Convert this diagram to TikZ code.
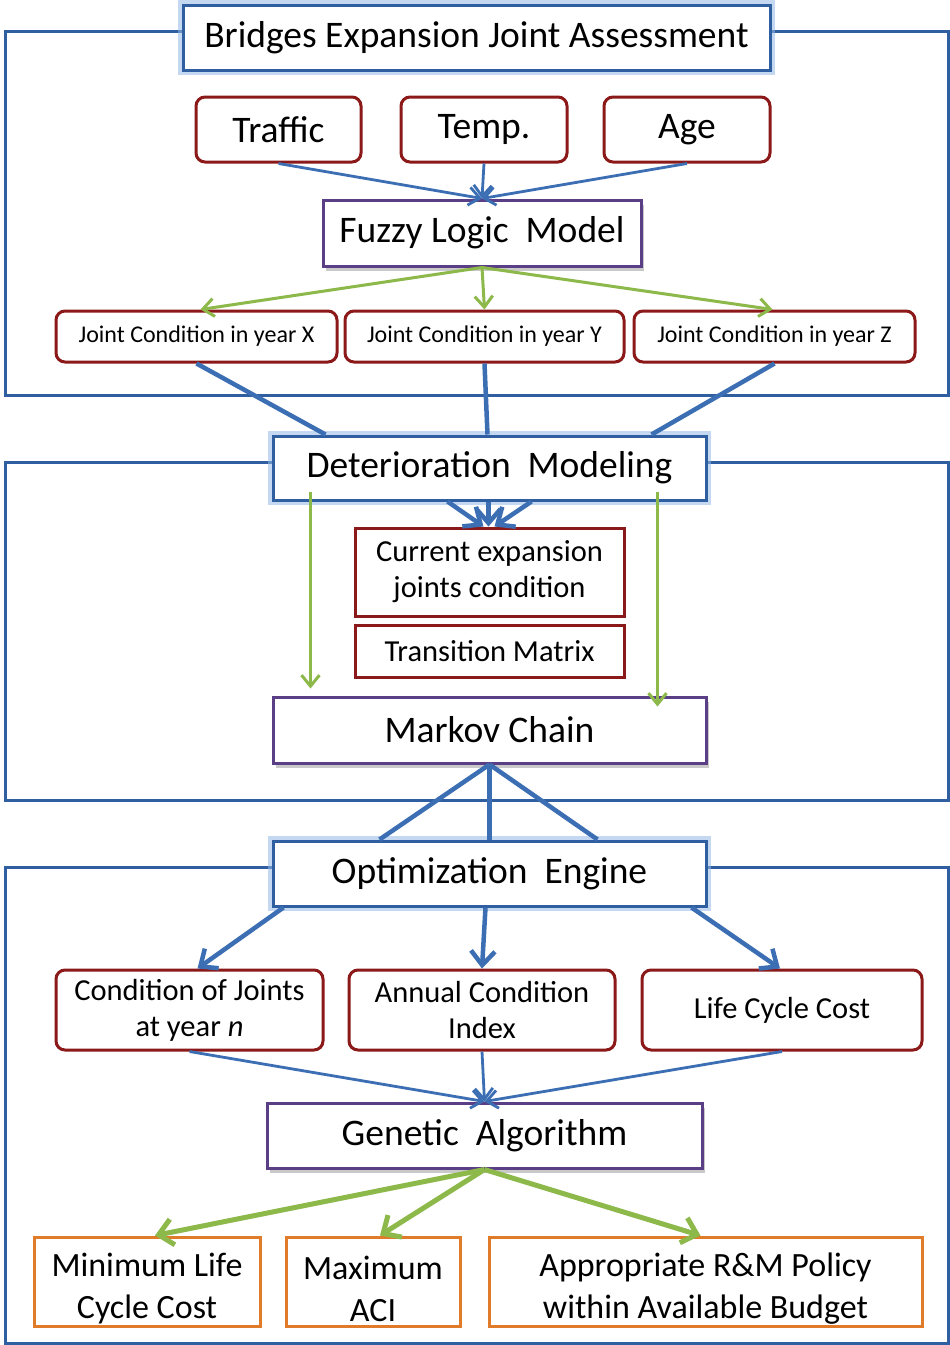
\documentclass[tikz,border=0pt]{standalone}
\usepackage{fontspec}
\setmainfont{Carlito}
\usetikzlibrary{arrows.meta,shadows,calc}
\pgfdeclarelayer{background}
\pgfsetlayers{background,main}

\definecolor{frameblue}{RGB}{47,95,160}
\definecolor{linkblue}{RGB}{60,110,180}
\definecolor{glowblue}{RGB}{150,185,230}
\definecolor{boxred}{RGB}{140,25,25}
\definecolor{boxpurple}{RGB}{91,63,134}
\definecolor{linkgreen}{RGB}{141,184,74}
\definecolor{boxorange}{RGB}{224,123,42}

\newcommand\fsMain{\fontsize{37.5}{40}\selectfont}
\newcommand\fsSmall{\fontsize{24}{28}\selectfont}
\newcommand\fsMid{\fontsize{30.5}{36}\selectfont}
\newcommand\fsOut{\fontsize{34}{42}\selectfont}
% taller first line pushes two-line labels a little lower in their boxes
\newcommand\lowerstrut{\rule{0pt}{38pt}}

\tikzset{
  frameline/.style={draw=frameblue, line width=3},
  glowbox/.style={draw=frameblue, line width=3, fill=white, inner sep=0,
    preaction={draw=glowblue, line width=10, opacity=.55}, font=\fsMain},
  inbox/.style={draw=boxred, line width=3, fill=white, rounded corners=9, inner sep=0, font=\fsMain},
  jcbox/.style={inbox, font=\fsSmall},
  sqbox/.style={draw=boxred, line width=3, fill=white, inner sep=0, align=center, font=\fsMid},
  modelbox/.style={draw=boxpurple, line width=3, fill=white, inner sep=0, font=\fsMain,
    drop shadow={shadow xshift=3pt, shadow yshift=-5pt, opacity=.35, fill=black!60}},
  resbox/.style={inbox, align=center, font=\fsMid},
  outbox/.style={draw=boxorange, line width=3, fill=white, inner sep=0, align=center, font=\fsOut},
  bluearrow/.style={draw=linkblue, line width=2.8, -{Straight Barb[length=11pt,width=18pt]}},
  bluebold/.style={draw=linkblue, line width=4.5},
  blueboldarrow/.style={bluebold, -{Straight Barb[length=14pt,width=24pt]}},
  greenarrow/.style={draw=linkgreen, line width=3, -{Straight Barb[length=11pt,width=18pt]}},
  greenbold/.style={draw=linkgreen, line width=5, -{Straight Barb[length=14pt,width=26pt]}},
}

\begin{document}
\begin{tikzpicture}[x=1pt,y=-1pt]
\useasboundingbox (0,0) rectangle (950,1345);

% ---------- nodes ----------
\node[glowbox, minimum width=587, minimum height=65] (title) at (476.5,37.5) {Bridges Expansion Joint Assessment};

\node[inbox, minimum width=165, minimum height=65] (traffic) at (278.5,129.5) {Traffic};
\node[inbox, minimum width=166, minimum height=65] (temp) at (484,129.5) {Temp.};
\node[inbox, minimum width=166, minimum height=65] (age) at (687,129.5) {Age};

\node[modelbox, minimum width=318, minimum height=66] (fuzzy) at (482,233) {Fuzzy Logic\ \ Model};

\node[jcbox, minimum width=281, minimum height=51] (jcx) at (196.5,336.5) {Joint Condition in year X};
\node[jcbox, minimum width=279, minimum height=51] (jcy) at (484.5,336.5) {Joint Condition in year Y};
\node[jcbox, minimum width=281, minimum height=51] (jcz) at (774.5,336.5) {Joint Condition in year Z};

\node[glowbox, minimum width=433, minimum height=64] (det) at (489.5,468) {Deterioration\ \ Modeling};

\node[sqbox, minimum width=269, minimum height=88] (cur) at (489.5,572) {Current expansion\\joints condition};
\node[sqbox, minimum width=269, minimum height=52] (trans) at (489.5,651) {Transition Matrix};

\node[modelbox, minimum width=433, minimum height=66] (markov) at (489.5,730) {Markov Chain};

\node[glowbox, minimum width=433, minimum height=65] (opt) at (489.5,873.5) {Optimization\ \ Engine};

\node[resbox, minimum width=267, minimum height=80] (cj) at (189.5,1010) {Condition of Joints\\at year \textit{n}};
\node[resbox, minimum width=266, minimum height=80] (aci) at (482,1010) {Annual Condition\\Index};
\node[resbox, minimum width=280, minimum height=80] (lcc) at (782,1010) {Life Cycle Cost};

\node[modelbox, minimum width=435, minimum height=65] (ga) at (484.5,1135.5) {Genetic\ \ Algorithm};

\node[outbox, minimum width=226, minimum height=89] (mlcc) at (147,1281.5) {\lowerstrut Minimum Life\\Cycle Cost};
\node[outbox, minimum width=174, minimum height=89] (maci) at (373,1281.5) {\lowerstrut Maximum\\ACI};
\node[outbox, minimum width=433, minimum height=89] (rm) at (705.5,1281.5) {\lowerstrut Appropriate R\&M Policy\\within Available Budget};

% ---------- section frames, behind the boxes ----------
\begin{pgfonlayer}{background}
  \fill[white] (0,0) rectangle (950,1345);
  \draw[frameline] (5,31) rectangle (948,395);
  \draw[frameline] (5,462) rectangle (948,800);
  \draw[frameline] (5,867) rectangle (948,1343);
\end{pgfonlayer}

% ---------- inputs to fuzzy model ----------
\draw[bluearrow] (traffic.south) -- (fuzzy.north);
\draw[bluearrow] (temp.south) -- (fuzzy.north);
\draw[bluearrow] (age.south) -- (fuzzy.north);

% ---------- fuzzy model to yearly conditions ----------
\draw[greenarrow] (fuzzy.south) -- ([xshift=4pt]jcx.north);
\draw[greenarrow] (fuzzy.south) -- (jcy.north);
\draw[greenarrow] (fuzzy.south) -- ([xshift=-2pt]jcz.north);

% ---------- yearly conditions into deterioration modelling ----------
\draw[bluebold] (jcx.south) -- ([xshift=54pt]det.north west);
\draw[bluebold] (jcy.south) -- ([xshift=-2pt]det.north);
\draw[bluebold] (jcz.south) -- ([xshift=-56pt]det.north east);

% ---------- deterioration modelling internals ----------
\draw[blueboldarrow] ([xshift=-42pt]det.south) -- ([xshift=-6pt]cur.north);
\draw[blueboldarrow] ([xshift=-1pt]det.south) -- ([xshift=-1pt]cur.north);
\draw[blueboldarrow] ([xshift=42pt]det.south) -- ([xshift=5pt]cur.north);
\draw[greenarrow] ([xshift=39pt,yshift=10pt]det.south west) -- ([xshift=39pt,yshift=7pt]markov.north west);
\draw[greenarrow] ([xshift=-50pt,yshift=10pt]det.south east) -- ([xshift=-50pt,yshift=-11pt]markov.north east);

% ---------- markov chain to optimisation ----------
\draw[bluebold] (markov.south) -- ([xshift=-110pt]opt.north);
\draw[bluebold] (markov.south) -- (opt.north);
\draw[bluebold] (markov.south) -- ([xshift=108pt]opt.north);

% ---------- optimisation outputs ----------
\draw[blueboldarrow] ([xshift=12pt]opt.south west) -- ([xshift=8pt]cj.north);
\draw[blueboldarrow] ([xshift=-4pt]opt.south) -- (aci.north);
\draw[blueboldarrow] ([xshift=-16pt]opt.south east) -- ([xshift=-2pt]lcc.north);

% ---------- into genetic algorithm ----------
\draw[bluearrow] (cj.south) -- (ga.north);
\draw[bluearrow] (aci.south) -- (ga.north);
\draw[bluearrow] (lcc.south) -- (ga.north);

% ---------- results ----------
\draw[greenbold] (ga.south) -- ([xshift=8pt]mlcc.north);
\draw[greenbold] (ga.south) -- ([xshift=7pt]maci.north);
\draw[greenbold] (ga.south) -- ([xshift=-5pt]rm.north);
\end{tikzpicture}
\end{document}
